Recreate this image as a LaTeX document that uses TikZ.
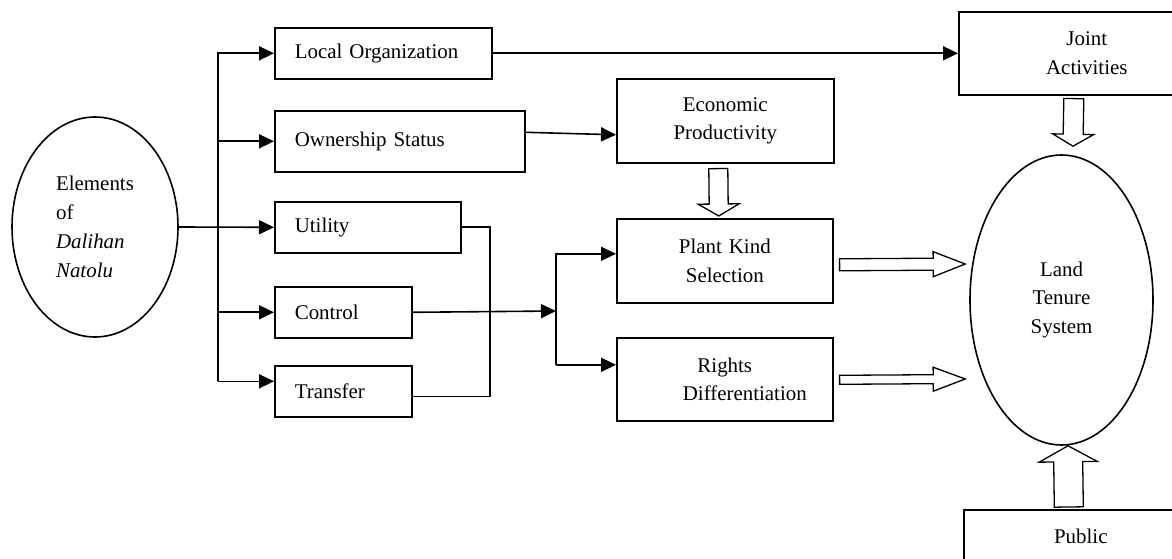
\documentclass[tikz,border=0pt]{standalone}
\usepackage{fontspec}
\setmainfont{Liberation Serif}
\usetikzlibrary{arrows.meta,calc,positioning,shapes.geometric}

\newcommand{\hollowarrow}[5]{%
  \coordinate (ha) at #1;
  \coordinate (hb) at #2;
  \coordinate (hh) at ($(hb)!#5!(ha)$);
  \draw[line width=1.3bp,fill=white] ($(ha)!#3!90:(hb)$) -- ($(hh)!#3!90:(hb)$) -- ($(hh)!#4!90:(hb)$) -- (hb)
    -- ($(hh)!#4!-90:(hb)$) -- ($(hh)!#3!-90:(hb)$) -- ($(ha)!#3!-90:(hb)$) -- cycle;
}

\tikzset{
  lbox/.style={draw,line width=1.6bp,anchor=north west,inner xsep=20bp,inner ysep=0pt,align=left,minimum height=51bp},
  cbox/.style={draw,line width=1.6bp,anchor=north west,inner xsep=4bp,inner ysep=0pt,align=center},
  oval/.style={draw,ellipse,line width=1.6bp,inner sep=0pt},
  line/.style={line width=1.6bp},
  arr/.style={line width=1.6bp,-{Triangle[length=15bp,width=14bp]}},
}

\begin{document}
\begin{tikzpicture}[x=1bp,y=-1bp,every node/.style={font=\fontsize{21}{29}\selectfont}]

\useasboundingbox (0,0) rectangle (1172,559);
\clip (0,0) rectangle (1172,559);

\node[oval,minimum width=166bp,minimum height=220bp,align=left] (elem) at (95,227) {Elements\\of\\\textit{Dalihan}\\\textit{Natolu}};
\node[oval,minimum width=183bp,minimum height=290bp,align=center] (land) at (1061.5,300) {Land\\Tenure\\System};

\node[lbox,text width=177bp] (loc) at (274,27) {Local Organization};
\node[lbox,text width=210bp,minimum height=61bp] (own) at (274,110) {Ownership Status};
\node[lbox,text width=146bp] (util) at (274,201) {Utility};
\node[lbox,text width=97bp] (ctrl) at (274,286) {Control};
\node[lbox,text width=97bp] (trans) at (274,365) {Transfer};

\node[cbox,text width=209bp,minimum height=84bp] (econ) at (616,78) {Economic\\Productivity};
\node[cbox,text width=208bp,minimum height=84bp] (plant) at (616,218) {Plant Kind\\Selection};
\node[cbox,text width=208bp,minimum height=83bp] (rights) at (616,337) {Rights\\\hspace*{40bp}Differentiation};
\node[cbox,text width=248bp,minimum height=83bp] (joint) at (958,11) {Joint\\Activities};
\node[cbox,text width=226bp,text height=34bp,text depth=60bp] (public) at (963,509) {Public};

\coordinate (split) at (218,227);
\coordinate (tb) at ($(trans.west)+(-56,-10)$);
\coordinate (join) at (490,311);
\coordinate (fork) at (556,311);
\coordinate (fd) at ($(rights.west)+(-60,-14.5)$);

\draw[arr] (tb) |- (loc.west);
\draw[arr] (split |- own.west) -- (own.west);
\draw[arr] (elem.east) -- (util.west);
\draw[arr] (split |- ctrl.west) -- (ctrl.west);
\draw[arr] (tb) -- (tb -| trans.west);

\draw[line] (util.east) -| (join) |- ($(trans.east)+(0,5)$);
\draw[arr] (ctrl.east) -- (fork);
\draw[arr] (fd) |- ($(plant.west)+(0,-7)$);
\draw[arr] (fd) -- ($(rights.west)+(0,-14.5)$);

\draw[arr] (loc.east) -- (loc.east -| joint.west);
\draw[arr] ($(own.east)+(0,-9)$) -- ($(econ.west)+(0,14)$);

\hollowarrow{($(econ.south)+(-7,5)$)}{($(plant.north)+(-6,-2)$)}{9.5bp}{20.5bp}{12bp}
\hollowarrow{($(plant.east)+(6,4)$)}{($(land.west)+(-4,-36)$)}{6bp}{12.5bp}{32bp}
\hollowarrow{($(rights.east)+(6,0.5)$)}{($(land.west)+(-4,79)$)}{4.5bp}{12bp}{32bp}
\hollowarrow{($(joint.south)+(-13,3)$)}{($(land.north)+(11.5,-8)$)}{10bp}{20.5bp}{12bp}
\hollowarrow{($(public.north)+(-12,-2)$)}{($(land.south)+(6.5,0)$)}{14.5bp}{29bp}{16bp}

\end{tikzpicture}
\end{document}
